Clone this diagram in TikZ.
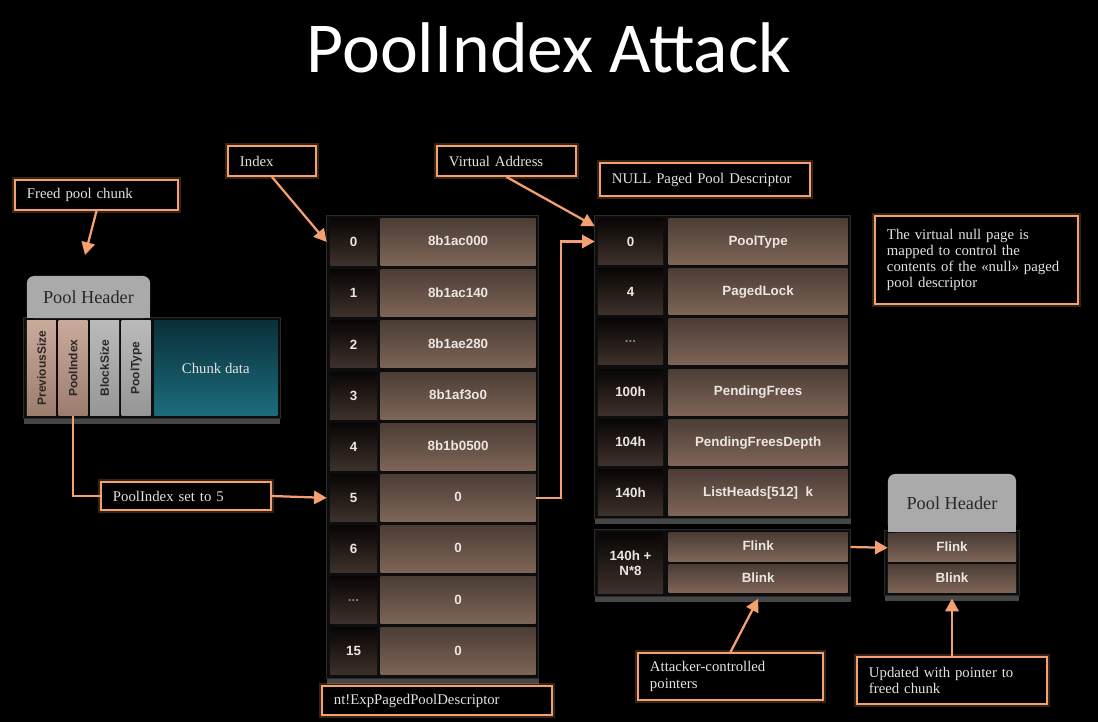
\documentclass[tikz,border=0pt]{standalone}
\usepackage{fontspec}
\setmainfont{Liberation Serif}
\newfontfamily\cellfont{Liberation Sans}
\newfontfamily\titlefont{Carlito}
\usetikzlibrary{positioning, fit, backgrounds, shadows, calc, arrows.meta}
\hyphenpenalty=10000

\definecolor{callorange}{RGB}{244,160,112}
\definecolor{calltext}{RGB}{226,226,226}
\definecolor{celltop}{RGB}{76,61,54}
\definecolor{cellbot}{RGB}{126,101,87}
\definecolor{idxtop}{RGB}{8,6,5}
\definecolor{idxbot}{RGB}{62,49,43}
\definecolor{celltext}{RGB}{236,230,226}
\definecolor{hdrgray}{RGB}{170,170,170}
\definecolor{hdrtext}{RGB}{40,40,40}
\definecolor{fieldtop}{RGB}{202,170,154}
\definecolor{fieldbot}{RGB}{156,124,108}
\definecolor{graytop}{RGB}{186,186,186}
\definecolor{graybot}{RGB}{150,150,150}
\definecolor{tealtop}{RGB}{10,48,58}
\definecolor{tealbot}{RGB}{28,108,124}
\definecolor{backfill}{RGB}{14,13,13}
\definecolor{backline}{RGB}{42,42,42}

\tikzstyle{callout} = [rectangle, draw=callorange, line width=1.4pt, fill=black, text=calltext, align=left, inner xsep=0.3cm, inner ysep=2pt, font=\fontsize{10.5}{11.5}\selectfont, preaction={draw=callorange, line width=4pt, opacity=0.22}]
\tikzstyle{idx} = [rectangle, top color=idxtop, bottom color=idxbot, text=celltext, font=\cellfont\bfseries\fontsize{9.5}{11}\selectfont, minimum width=1.175cm, minimum height=1.175cm, inner sep=0pt, align=center]
\tikzstyle{val} = [rectangle, top color=celltop, bottom color=cellbot, text=celltext, font=\cellfont\bfseries\fontsize{9.5}{11}\selectfont, minimum width=3.875cm, minimum height=1.175cm, inner sep=0pt, text height=7pt, text depth=1.5pt]
\tikzstyle{hdr} = [rectangle, rounded corners=5pt, fill=hdrgray, text=hdrtext, font=\fontsize{13}{15}\selectfont, minimum width=3.075cm, minimum height=1.05cm, inner sep=0pt]
\tikzstyle{field} = [rectangle, top color=fieldtop, bottom color=fieldbot, text=hdrtext, font=\cellfont\bfseries\fontsize{8.5}{10}\selectfont, minimum width=0.725cm, minimum height=2.375cm, inner sep=0pt]
\tikzstyle{gfield} = [field, top color=graytop, bottom color=graybot]
\tikzstyle{chunkbox} = [rectangle, top color=tealtop, bottom color=tealbot, text=calltext, font=\fontsize{10.5}{12}\selectfont, minimum width=3.075cm, minimum height=2.375cm, inner sep=0pt]
\tikzstyle{backdrop} = [rectangle, fill=backfill, draw=backline, line width=0.6pt, inner sep=2pt, drop shadow={shadow xshift=0pt, shadow yshift=-4pt, fill=gray!55!black, opacity=1}]
\tikzstyle{arrow} = [draw=callorange, line width=1.6pt, -{Triangle[length=9pt, width=9.5pt]}]
\tikzstyle{link} = [draw=callorange, line width=1.6pt]

\begin{document}
\begin{tikzpicture}[x=0.025cm, y=-0.025cm, node distance=0.09cm]
      \begin{scope}[on background layer]
        \fill[black] (0,0) rectangle (1098,722);
      \end{scope}
      \useasboundingbox (0,0) rectangle (1098,722);

      % Title
      \node (title) [text=white, font=\titlefont\fontsize{51}{56}\selectfont] at (549,48) {PoolIndex Attack};

      % Freed pool chunk
      \node (freed) [callout, text width=3.475cm, minimum height=0.75cm] at (96.5,195) {Freed pool chunk};
      \coordinate (freedtip) at (85,255);
      \node (ph) [hdr] at (88.5,297) {Pool Header};
      \node (fps) [field, below right=0.05cm and 0cm of ph.south west] {\rotatebox{90}{PreviousSize}};
      \node (fpi) [field, right=0.05cm of fps] {\rotatebox{90}{PoolIndex}};
      \node (fbs) [gfield, right=0.05cm of fpi] {\rotatebox{90}{BlockSize}};
      \node (fpt) [gfield, right=0.05cm of fbs] {\rotatebox{90}{PoolType}};
      \node (chunk) [chunkbox, right=0.075cm of fpt] {Chunk data};
      \node (pidx) [callout, text width=3.65cm, minimum height=0.7cm] at (186,496) {PoolIndex set to 5};

      % nt!ExpPagedPoolDescriptor
      \node (index) [callout, text width=1.6cm, minimum height=0.75cm] at (272,161) {Index};
      \node (i0) [idx] at (353.5,242) {0};
      \node (i1) [idx, below=of i0] {1};
      \node (i2) [idx, below=of i1] {2};
      \node (i3) [idx, below=of i2] {3};
      \node (i4) [idx, below=of i3] {4};
      \node (i5) [idx, below=of i4] {5};
      \node (i6) [idx, below=of i5] {6};
      \node (i7) [idx, below=of i6, text=gray] {...};
      \node (i15) [idx, below=of i7] {15};
      \node (v0) [val, right=0.075cm of i0] {8b1ac000};
      \node (v1) [val, right=0.075cm of i1] {8b1ac140};
      \node (v2) [val, right=0.075cm of i2] {8b1ae280};
      \node (v3) [val, right=0.075cm of i3] {8b1af3o0};
      \node (v4) [val, right=0.075cm of i4] {8b1b0500};
      \node (v5) [val, right=0.075cm of i5] {0};
      \node (v6) [val, right=0.075cm of i6] {0};
      \node (v7) [val, right=0.075cm of i7] {0};
      \node (v15) [val, right=0.075cm of i15] {0};
      \node (ntdesc) [callout, text width=5.15cm, minimum height=0.725cm] at (437,700.5) {nt!ExpPagedPoolDescriptor};

      % NULL paged pool descriptor
      \node (va) [callout, text width=2.875cm, minimum height=0.75cm] at (506.5,161) {Virtual Address};
      \node (nppd) [callout, text width=4.65cm, minimum height=0.825cm] at (705,179.5) {NULL Paged Pool Descriptor};
      \node (n0) [idx, minimum width=1.625cm, minimum height=1.15cm] at (630.5,241.5) {0};
      \node (n1) [idx, minimum width=1.625cm, minimum height=1.15cm, below=of n0] {4};
      \node (n2) [idx, minimum width=1.625cm, minimum height=1.15cm, below=of n1, text=gray] {...};
      \node (n3) [idx, minimum width=1.625cm, minimum height=1.15cm, below=of n2] {100h};
      \node (n4) [idx, minimum width=1.625cm, minimum height=1.15cm, below=of n3] {104h};
      \node (n5) [idx, minimum width=1.625cm, minimum height=1.15cm, below=of n4] {140h};
      \node (w0) [val, minimum width=4.475cm, minimum height=1.15cm, right=0.125cm of n0] {PoolType};
      \node (w1) [val, minimum width=4.475cm, minimum height=1.15cm, right=0.125cm of n1] {PagedLock};
      \node (w2) [val, minimum width=4.475cm, minimum height=1.15cm, right=0.125cm of n2] {};
      \node (w3) [val, minimum width=4.475cm, minimum height=1.15cm, right=0.125cm of n3] {PendingFrees};
      \node (w4) [val, minimum width=4.475cm, minimum height=1.15cm, right=0.125cm of n4] {PendingFreesDepth};
      \node (w5) [val, minimum width=4.475cm, minimum height=1.15cm, right=0.125cm of n5] {ListHeads[512]\ \ k};
      \node (vnull) [callout, text width=4.475cm, minimum height=2.2cm] at (976.5,260) {The virtual null page is mapped to control the contents of the «null» paged pool descriptor};

      % ListHeads entry
      \node (m0) [idx, minimum width=1.625cm, minimum height=1.5cm] at (630.5,563) {140h +\\N*8};
      \node (f1) [val, minimum width=4.475cm, minimum height=0.7cm, right=0.125cm of m0.north east, anchor=north west] {Flink};
      \node (b1) [val, minimum width=4.475cm, minimum height=0.7cm, below=0.075cm of f1] {Blink};
      \node (attacker) [callout, text width=4.025cm, minimum height=1.175cm] at (730.5,676.5) {Attacker-controlled\\pointers};

      % Pool header of the freed chunk
      \node (h2) [hdr, minimum width=3.2cm, minimum height=1.45cm] at (952,503) {Pool Header};
      \node (h2f) [val, minimum width=3.2cm, minimum height=0.7cm, below=0.03cm of h2] {Flink};
      \node (h2b) [val, minimum width=3.2cm, minimum height=0.7cm, below=0.05cm of h2f] {Blink};
      \node (updated) [callout, text width=4.15cm, minimum height=1.175cm] at (952,680.5) {Updated with pointer to\\freed chunk};

      % Backdrops
      \begin{scope}[on background layer]
        \node (back1) [backdrop, fit=(fps)(chunk)] {};
        \node (back2) [backdrop, fit=(i0)(v15)] {};
        \node (back3) [backdrop, fit=(n0)(w5)] {};
        \node (back4) [backdrop, fit=(m0)(b1)] {};
        \node (back5) [backdrop, fit=(h2f)(h2b)] {};
        \fill[hdrgray] (ph.west) rectangle (ph.south east);
        \fill[hdrgray] (h2.west) rectangle (h2.south east);
      \end{scope}

      % Arrows
      \draw [arrow] (freed.south) -- (freedtip);
      \draw [arrow] (index.south) -- ($(i0.west)+(-3,0)$);
      \draw [link] (fpi.south) |- (pidx.west);
      \draw [arrow] (pidx.east) -- ($(i5.west)+(-3,0)$);
      \draw [arrow] (va.south) -- ($(n0.north west)+(-3,8)$);
      \draw [arrow] (v5.east) -- ++(25,0) |- ($(n0.west)+(-3,0)$);
      \draw [arrow] ([xshift=2pt]f1.east) -- (h2f.west);
      \draw [arrow] (attacker.north) -- ($(b1.south)+(0,6)$);
      \draw [arrow] (updated.north) -- ($(h2b.south)+(0,6)$);
    \end{tikzpicture}
\end{document}
